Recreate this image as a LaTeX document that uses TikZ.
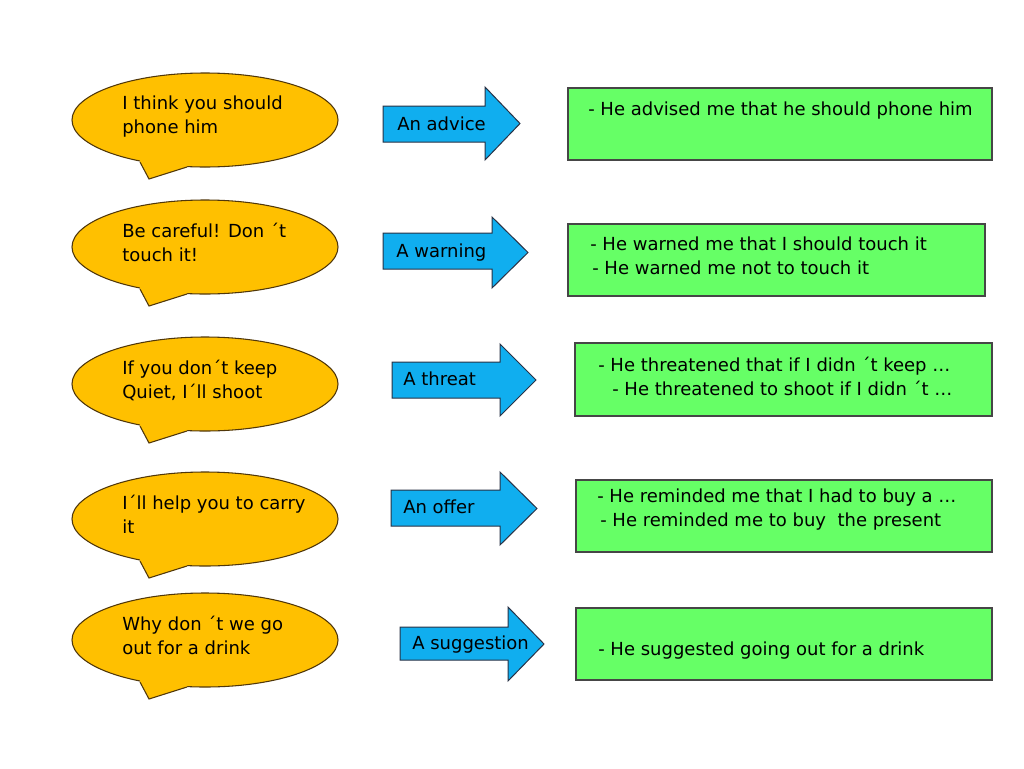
\documentclass[tikz,border=0pt]{standalone}
\usepackage{fontspec}
\setmainfont{DejaVu Sans}
\usetikzlibrary{shapes.geometric}
\definecolor{bubble}{RGB}{255,192,0}
\definecolor{bubbleline}{RGB}{80,55,10}
\definecolor{arrowfill}{RGB}{16,174,239}
\definecolor{arrowline}{RGB}{40,50,70}
\definecolor{boxfill}{RGB}{102,255,102}
\definecolor{boxline}{RGB}{70,70,70}
\newcommand\bubbletail[1]{%
  \fill[bubble] ([shift={(-65,42)}]#1.center) -- ([shift={(-56,59)}]#1.center) -- ([shift={(-18,47)}]#1.center)
     -- ([shift={(-18,41)}]#1.center) -- ([shift={(-65,36)}]#1.center) -- cycle;
  \draw[bubbleline, line width=0.8pt, line join=miter] ([shift={(-65,42)}]#1.center) -- ([shift={(-56,59)}]#1.center) -- ([shift={(-18,47)}]#1.center);
}
% L, T, B, X, HT, HB, tipx
\newcommand\arrowshape[7]{%
  \draw[arrowpoly] (#1,#2) -- (#4,#2) -- (#4,#5) -- (#7,{(#5+#6)/2}) -- (#4,#6) -- (#4,#3) -- (#1,#3) -- cycle;
}
\begin{document}
\begin{tikzpicture}[x=0.75pt,y=-0.75pt,
  bubblestyle/.style={ellipse, fill=bubble, draw=bubbleline, line width=0.8pt, minimum width=199.5pt, minimum height=70.5pt, inner sep=0pt},
  arrowpoly/.style={fill=arrowfill, draw=arrowline, line width=0.75pt, line join=miter},
  greenbox/.style={fill=boxfill, draw=boxline, line width=0.8pt},
  txt/.style={anchor=north west, inner sep=0pt, align=left, font=\fontsize{13.5}{18}\selectfont},
  one/.style={anchor=base west, inner sep=0pt, font=\fontsize{13.5}{18}\selectfont}]
\fill[white] (0,0) rectangle (1024,768);
\useasboundingbox (0,0) rectangle (1024,768);

% ---------- bubbles ----------
\node[bubblestyle] (b1) at (205,120) {};
\bubbletail{b1}
\node[bubblestyle] (b2) at (205,247) {};
\bubbletail{b2}
\node[bubblestyle] (b3) at (205,384) {};
\bubbletail{b3}
\node[bubblestyle] (b4) at (205,519) {};
\bubbletail{b4}
\node[bubblestyle] (b5) at (205,640) {};
\bubbletail{b5}

\node[txt] (t1) at (122,96) {I think you should\\phone him};
\node[txt] (t2) at (122,223) {Be careful! Don ´t\\touch it!};
\node[txt] (t3) at (122,360) {If you don´t keep\\Quiet, I´ll shoot};
\node[txt] (t4) at (122,495) {I´ll help you to carry\\it};
\node[txt] (t5) at (122,616) {Why don ´t we go\\out for a drink};

% ---------- arrows ----------
\arrowshape{383}{106}{142}{485}{87}{160}{520}
\arrowshape{383}{233}{269}{492}{217}{288}{528}
\arrowshape{392}{362}{398}{500}{344}{416}{536}
\arrowshape{391}{490}{526}{500}{472}{545}{537}
\arrowshape{400}{627}{660}{508}{607}{681}{544}

\node[one] (a1) at (397,130.5) {An advice};
\node[one] (a2) at (396,257.5) {A warning};
\node[one] (a3) at (403,385.5) {A threat};
\node[one] (a4) at (403,513.5) {An offer};
\node[one] (a5) at (412,649.5) {A suggestion};

% ---------- green boxes ----------
\draw[greenbox] (568,88) rectangle (992,160);
\draw[greenbox] (568,224) rectangle (985,296);
\draw[greenbox] (575,343) rectangle (992,416);
\draw[greenbox] (576,480) rectangle (992,552);
\draw[greenbox] (576,608) rectangle (992,680);

\node[one] (g1) at (588,115) {- He advised me that he should phone him};
\node[txt] (g2) at (590,237) {- He warned me that I should touch it\\\hspace{1.5pt}- He warned me not to touch it};
\node[txt] (g3) at (598,357) {- He threatened that if I didn ´t keep …\\\hspace{10.5pt}- He threatened to shoot if I didn ´t …};
\node[txt] (g4) at (597,489) {- He reminded me that I had to buy a …\\\hspace{2.25pt}- He reminded me to buy~ the present};
\node[one] (g5) at (598,655) {- He suggested going out for a drink};
\end{tikzpicture}
\end{document}
